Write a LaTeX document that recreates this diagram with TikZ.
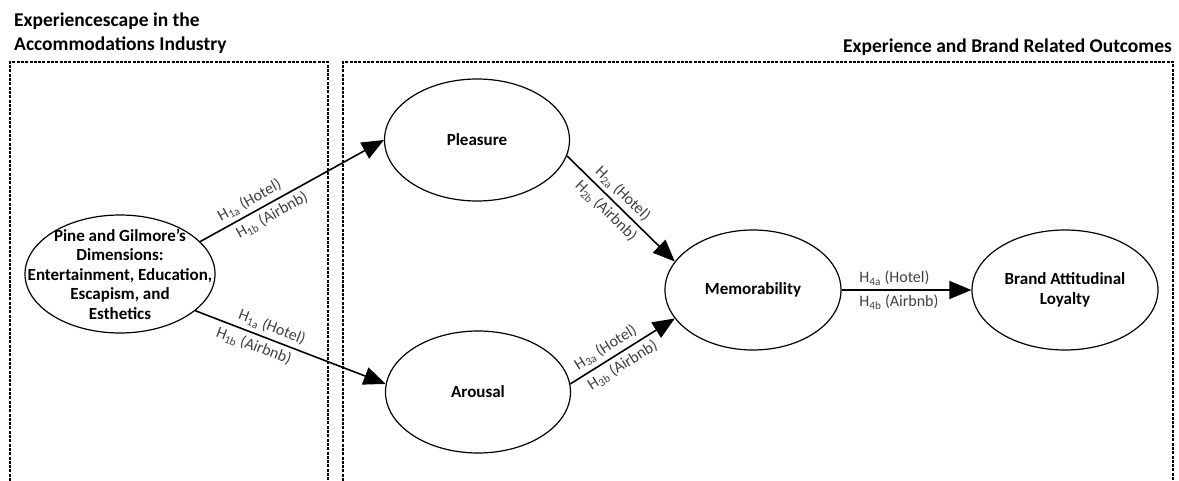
\documentclass[tikz,border=0pt]{standalone}
\usepackage{fontspec}
\setmainfont{Carlito}
\usetikzlibrary{shapes.geometric, arrows.meta, positioning}

\begin{document}
\begin{tikzpicture}[x=1pt, y=-1pt,
	construct/.style={draw, ellipse, line width=1.2pt, inner sep=0pt},
	ctext/.style={align=center, inner sep=0pt, font=\bfseries\fontsize{17}{19.5}\selectfont},
	hyp/.style={line width=1.6pt, -{Triangle[length=22pt, width=18pt]}},
	hlabel/.style={sloped, inner sep=4pt, text=black!75, font=\fontsize{16}{18}\selectfont},
	zone/.style={line width=1.3pt, dash pattern=on 3pt off 1.3pt},
	heading/.style={inner sep=0pt, align=left, font=\bfseries\fontsize{19.5}{24}\selectfont}]
		\useasboundingbox (0,0) rectangle (1179,481);
		
		% zones
		\draw[zone] (10,481) |- (328,62) -- (328,481);
		\draw[zone] (343,481) |- (1173,62) -- (1173,481);
		\node[heading, anchor=north west] (hleft) at (14,13) {Experiencescape in the\\Accommodations Industry};
		\node[heading, anchor=base east] (hright) at (1172,53) {Experience and Brand Related Outcomes};
		
		% constructs
		\node[construct, minimum width=190pt, minimum height=118pt] (pg) at (120,274) {};
		\node[ctext] (pgtext) at (pg) {Pine and Gilmore’s\\Dimensions:\\Entertainment, Education,\\Escapism, and\\Esthetics};
		\node[construct, minimum width=185pt, minimum height=122pt] (pleasure) at (477,140) {};
		\node[ctext] at (pleasure) {Pleasure};
		\node[construct, minimum width=185pt, minimum height=122pt] (arousal) at (478,392) {};
		\node[ctext] at (arousal) {Arousal};
		\node[construct, minimum width=176pt, minimum height=120pt] (memo) at (753,290) {};
		\node[ctext] at (memo) {Memorability};
		\node[construct, minimum width=186pt, minimum height=120pt] (loyalty) at (1065,290) {};
		\node[ctext] at (loyalty) {Brand Attitudinal\\Loyalty};
		
		% H1
		\draw[hyp] (pg.22) -- (pleasure.west)
			node[hlabel, pos=0.3, above] {H\textsubscript{1a} (Hotel)}
			node[hlabel, pos=0.36, below] {H\textsubscript{1b} (Airbnb)};
		\draw[hyp] (pg.-26) -- (arousal.175)
			node[hlabel, pos=0.38, above] {H\textsubscript{1a} (Hotel)}
			node[hlabel, pos=0.33, below] {H\textsubscript{1b} (Airbnb)};
		
		% H2, H3
		\draw[hyp] (pleasure.-10) -- (memo.160)
			node[hlabel, pos=0.44, above] {H\textsubscript{2a} (Hotel)}
			node[hlabel, pos=0.44, below] {H\textsubscript{2b} (Airbnb)};
		\draw[hyp] (arousal.5) -- (memo.200)
			node[hlabel, pos=0.4, above] {H\textsubscript{3a} (Hotel)}
			node[hlabel, pos=0.44, below] {H\textsubscript{3b} (Airbnb)};
		
		% H4
		\draw[hyp] (memo.east) -- (loyalty.west)
			node[hlabel, pos=0.1, above right] {H\textsubscript{4a} (Hotel)}
			node[hlabel, pos=0.1, below right] {H\textsubscript{4b} (Airbnb)};
\end{tikzpicture}
\end{document}
